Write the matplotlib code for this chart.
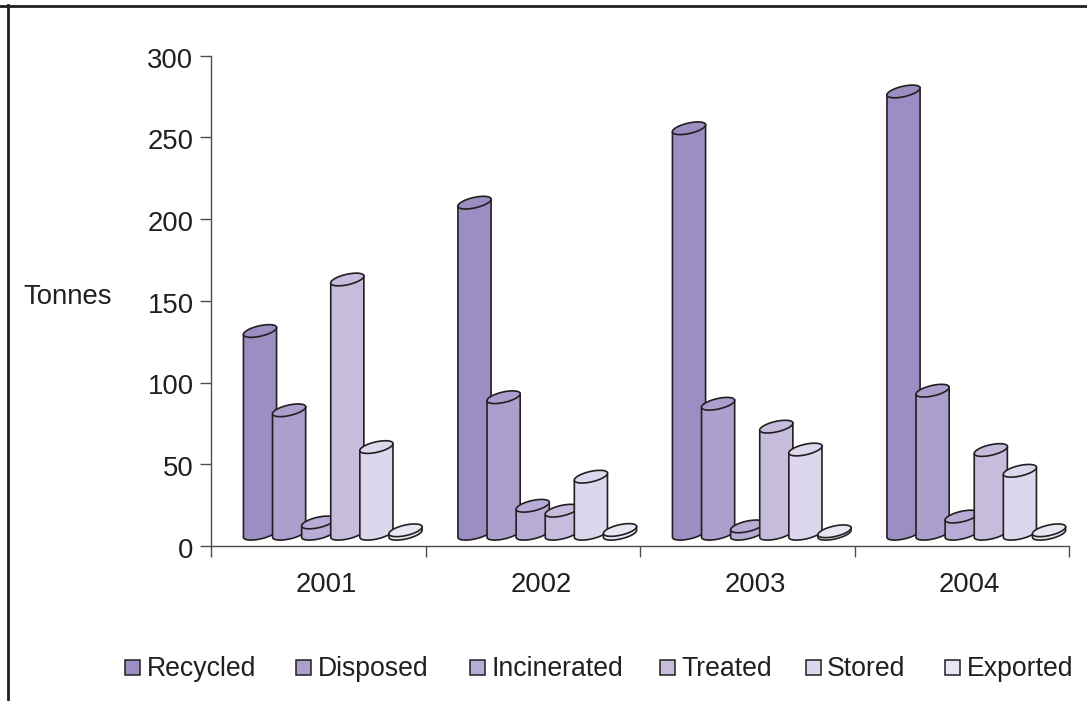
import numpy as np
import matplotlib
matplotlib.use("Agg")
import matplotlib.pyplot as plt
from matplotlib.lines import Line2D
from matplotlib.patches import Polygon, Rectangle
from matplotlib.transforms import ScaledTranslation

years = ["2001", "2002", "2003", "2004"]
series = ["Recycled", "Disposed", "Incinerated", "Treated", "Stored", "Exported"]
recycled = [131.5, 210, 255.5, 278]
disposed = [83, 91, 87, 95]
incinerated = [14.4, 24.6, 12, 18]
treated = [163, 21.6, 73, 58.7]
stored = [60.5, 42.4, 59, 46]
exported = [9.6, 9.8, 9, 9.6]
table = [recycled, disposed, incinerated, treated, stored, exported]
colors = ["#9C8DC2", "#AD9FCD", "#B7ACD5", "#C6BDDD", "#DCD7EC", "#E9E6F3"]
ink = "#231F20"
axis_grey = "#4D4D4F"

W, H = 1087, 701
plt.rcParams["font.family"] = ["Liberation Sans", "DejaVu Sans"]
fig = plt.figure(figsize=(W / 100, H / 100), dpi=100)
left, right, top, bottom = 211, 1069, 55.5, 546
ax = fig.add_axes([left / W, 1 - bottom / H, (right - left) / W, (bottom - top) / H])
ax.set_xlim(0, 4)
ax.set_ylim(0, 300)

px_x = 4 / (right - left)
px_y = 300 / (bottom - top)
bar_w = 33 * px_x
bar_step = 29.1 * px_x
group_shift = 32.5 * px_x
floor = 7.5
label_size = 19.8


def ellipse(cx, cy, t):
    # Tilted ellipse for a cylinder end, worked out in pixels then scaled to data units
    a, b, tilt = 17.0, 5.2, np.radians(13)
    ex = a * np.cos(t) * np.cos(tilt) - b * np.sin(t) * np.sin(tilt)
    ey = a * np.cos(t) * np.sin(tilt) + b * np.sin(t) * np.cos(tilt)
    return cx + ex * px_x, cy + ey * px_y


def cylinder(x0, value, color):
    cx = x0 + bar_w / 2
    lower = np.linspace(np.pi, 2 * np.pi, 40)
    whole = np.linspace(0, 2 * np.pi, 80)
    bx, by = ellipse(cx, floor, lower)
    tx, ty = ellipse(cx, value, np.array([0.0, np.pi]))
    # Body outline: lower half of the base, then up the right side and down the left
    xs = np.r_[bx, tx]
    ys = np.r_[by, ty]
    ax.add_patch(Polygon(np.c_[xs, ys], closed=True, fc=color, ec=ink, lw=1.2, joinstyle="round", zorder=3))
    ex, ey = ellipse(cx, value, whole)
    ax.add_patch(Polygon(np.c_[ex, ey], closed=True, fc=color, ec=ink, lw=1.2, zorder=3))


for g in range(len(years)):
    for s, vals in enumerate(table):
        cylinder(g + group_shift + s * bar_step, vals[g], colors[s])

ax.set_xticks(range(5))
ax.set_xticklabels([])
# Year labels sit slightly right of the tick midpoints, centred under the drawn floor
ax.set_xticks(np.arange(4) + 0.5 + 8 * px_x, minor=True)
ax.set_xticklabels(years, minor=True)
ax.set_yticks(range(0, 301, 50))
ax.tick_params(axis="both", which="major", direction="out", length=7.6, width=1.0, color=axis_grey,
               labelsize=label_size, labelcolor=ink, pad=5)
ax.tick_params(axis="x", which="minor", length=0, labelsize=label_size, labelcolor=ink, pad=19)
shift = ScaledTranslation(0, -2 / 100, fig.dpi_scale_trans)
for lab in ax.get_yticklabels():
    lab.set_transform(lab.get_transform() + shift)
for side in ("top", "right"):
    ax.spines[side].set_visible(False)
for side in ("left", "bottom"):
    ax.spines[side].set_color(axis_grey)
    ax.spines[side].set_linewidth(1.0)

fig.text(23 / W, 1 - 304 / H, "Tonnes", fontsize=label_size, color=ink, ha="left", va="baseline")

# Outer frame: only the top and left rules are present
fig.add_artist(Line2D([0, 1], [1 - 5.5 / H] * 2, color=ink, lw=2.0))
fig.add_artist(Line2D([8 / W] * 2, [0, 1 - 4.5 / H], color=ink, lw=2.0))

# Legend row
swatch_x = [125, 296, 469.5, 660, 805.5, 944.5]
text_x = [147, 318, 491, 681, 827, 967]
for sx, tx, name, c in zip(swatch_x, text_x, series, colors):
    fig.add_artist(Rectangle((sx / W, 1 - 675 / H), 15 / W, 15 / H, transform=fig.transFigure,
                             fc=c, ec=ink, lw=1.1))
    fig.text(tx / W, 1 - 676 / H, name, fontsize=19.2, color=ink, ha="left", va="baseline")

fig.savefig("out.png", dpi=100)
